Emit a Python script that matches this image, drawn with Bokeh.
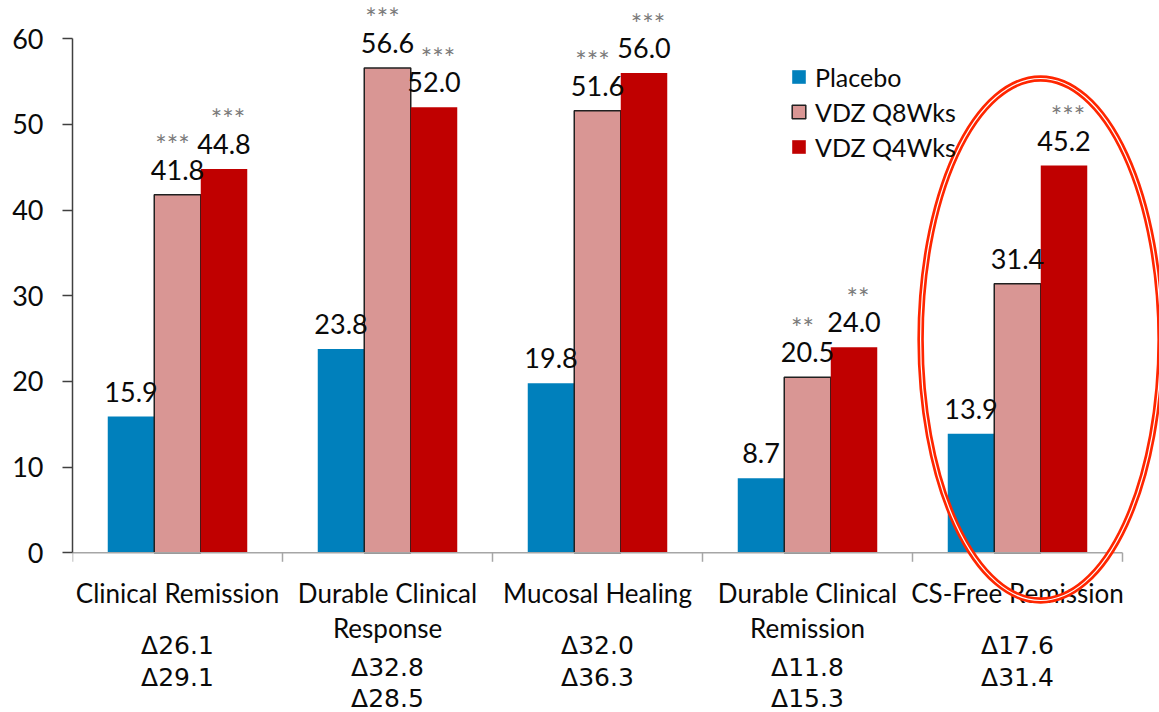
from bokeh.plotting import figure
from bokeh.models import ColumnDataSource, Range1d, FixedTicker, Legend, LegendItem
from bokeh.transform import dodge
from bokeh.core.properties import value
from bokeh.embed import file_html
from bokeh.resources import INLINE

# ---------------- data ----------------
categories = ["Clinical Remission", "Durable Clinical\nResponse", "Mucosal Healing",
              "Durable Clinical\nRemission", "CS-Free Remission"]
series_names = ["Placebo", "VDZ Q8Wks", "VDZ Q4Wks"]
placebo = [15.9, 23.8, 19.8, 8.7, 13.9]
vdz_q8 = [41.8, 56.6, 51.6, 20.5, 31.4]
vdz_q4 = [44.8, 52.0, 56.0, 24.0, 45.2]
stars_q8 = ["***", "***", "***", "**", ""]
stars_q4 = ["***", "***", "***", "**", "***"]
delta_q8 = [26.1, 32.8, 32.0, 11.8, 17.6]
delta_q4 = [29.1, 28.5, 36.3, 15.3, 31.4]
y_ticks = [0, 10, 20, 30, 40, 50, 60]
highlight_index = 4   # category circled in red

# ---------------- layout / style ----------------
W, H = 1159, 712
LEFT = 72
PX_PER_CAT = 210.0
PX_PER_UNIT = 8.567
ZERO_FROM_TOP = 552.3
BW = 46.5 / PX_PER_CAT

BLUE = "#0080BC"
PINK = "#D99694"
RED = "#C00000"
INK = "#0A0A0A"
FONT = "Lato"
DFONT = "DejaVu Sans"

n = len(categories)
x_end = (W - LEFT) / PX_PER_CAT
y_top = ZERO_FROM_TOP / PX_PER_UNIT
y_bot = -(H - ZERO_FROM_TOP) / PX_PER_UNIT

p = figure(width=W, height=H, x_range=Range1d(0, x_end), y_range=Range1d(y_bot, y_top),
           output_backend="svg", toolbar_location=None, x_axis_location=None,
           min_border_left=LEFT, min_border_right=0, min_border_top=0, min_border_bottom=0)
p.outline_line_color = None
p.grid.visible = False

yax = p.yaxis[0]
yax.ticker = FixedTicker(ticks=y_ticks)
yax.bounds = (min(y_ticks), max(y_ticks))
yax.axis_line_color = "#404040"
yax.axis_line_width = 1.5
yax.major_tick_line_color = "#404040"
yax.major_tick_line_width = 1.5
yax.major_tick_in = 0
yax.major_tick_out = 10
yax.minor_tick_line_color = None
yax.major_label_standoff = 19
yax.major_label_text_font = FONT
yax.major_label_text_font_size = "27px"
yax.major_label_text_color = INK

centers = [i + 0.5 for i in range(n)]
lines = [c.split("\n") for c in categories]
src = ColumnDataSource(dict(
    x=centers,
    placebo=placebo, q8=vdz_q8, q4=vdz_q4,
    lp=["%.1f" % v for v in placebo],
    l8=["%.1f" % v for v in vdz_q8],
    l4=["%.1f" % v for v in vdz_q4],
    s8=stars_q8, s4=stars_q4,
))

r_p = p.vbar(x=dodge("x", -BW, range=p.x_range), top="placebo", width=BW, source=src,
             fill_color=BLUE, line_color=None)
r_8 = p.vbar(x=dodge("x", 0, range=p.x_range), top="q8", width=BW, source=src,
             fill_color=PINK, line_color="#202020", line_width=1.5)
r_4 = p.vbar(x=dodge("x", BW, range=p.x_range), top="q4", width=BW, source=src,
             fill_color=RED, line_color=None)

# value labels
for off, ycol, tcol in [(-BW, "placebo", "lp"), (0, "q8", "l8"), (BW, "q4", "l4")]:
    p.text(x=dodge("x", off, range=p.x_range), y=ycol, text=tcol, source=src,
           text_font=value(FONT), text_font_size="27px", text_color=INK,
           text_align="center", text_baseline="alphabetic", y_offset=-25)

# significance stars
p.text(x=dodge("x", 0, range=p.x_range), y="q8", text="s8", source=src, text_font=value(FONT),
       text_font_size="27px", text_color="#7A7A7A", text_align="center",
       text_baseline="alphabetic", y_offset=-50, x_offset=-5)
p.text(x=dodge("x", BW, range=p.x_range), y="q4", text="s4", source=src, text_font=value(FONT),
       text_font_size="27px", text_color="#7A7A7A", text_align="center",
       text_baseline="alphabetic", y_offset=-50, x_offset=4)

# x baseline and category ticks
bounds = list(range(n + 1))
p.segment(x0=[0], y0=[0], x1=[n], y1=[0], line_color="#A6A6A6", line_width=1.5)
p.segment(x0=bounds, y0=[0] * (n + 1), x1=bounds, y1=[-9 / PX_PER_UNIT] * (n + 1),
          line_color="#A6A6A6", line_width=1.5)

# category labels
l1 = ColumnDataSource(dict(x=centers, y=[0] * n, t=[ln[0] for ln in lines]))
p.text(x="x", y="y", text="t", source=l1, text_font=value(FONT), text_font_size="26px",
       text_color=INK, text_align="center", text_baseline="middle", y_offset=40)
two = [i for i in range(n) if len(lines[i]) > 1]
l2 = ColumnDataSource(dict(x=[centers[i] for i in two], y=[0] * len(two), t=[lines[i][1] for i in two]))
p.text(x="x", y="y", text="t", source=l2, text_font=value(FONT), text_font_size="26px",
       text_color=INK, text_align="center", text_baseline="middle", y_offset=75)

# delta labels
d_src = ColumnDataSource(dict(
    x=centers, y=[0] * n,
    t1=["\u0394%.1f" % v for v in delta_q8],
    t2=["\u0394%.1f" % v for v in delta_q4],
    o1=[93 if len(ln) == 1 else 115 for ln in lines],
    o2=[125 if len(ln) == 1 else 146 for ln in lines],
))
p.text(x="x", y="y", text="t1", source=d_src, text_font=value(DFONT), text_font_size="25px",
       text_color=INK, text_align="center", text_baseline="middle", y_offset="o1")
p.text(x="x", y="y", text="t2", source=d_src, text_font=value(DFONT), text_font_size="25px",
       text_color=INK, text_align="center", text_baseline="middle", y_offset="o2")

# highlight ellipse around the last category
ex = highlight_index + 0.61
ey = 24.9
p.ellipse(x=[ex], y=[ey], width=[240], height=[522], width_units="screen", height_units="screen",
          fill_color=None, line_color="#FF2600", line_width=6.5)
p.ellipse(x=[ex], y=[ey], width=[240], height=[522], width_units="screen", height_units="screen",
          fill_color=None, line_color="white", line_width=1.2)

legend = Legend(items=[LegendItem(label=series_names[0], renderers=[r_p]),
                       LegendItem(label=series_names[1], renderers=[r_8]),
                       LegendItem(label=series_names[2], renderers=[r_4])],
                location=(718, 548), glyph_width=17, glyph_height=17, label_standoff=8,
                label_text_font=FONT, label_text_font_size="25px", label_text_color=INK,
                label_height=35, spacing=0, padding=0, margin=0,
                border_line_color=None, background_fill_alpha=0)
p.add_layout(legend)

open("out.html", "w").write(file_html(p, INLINE))
